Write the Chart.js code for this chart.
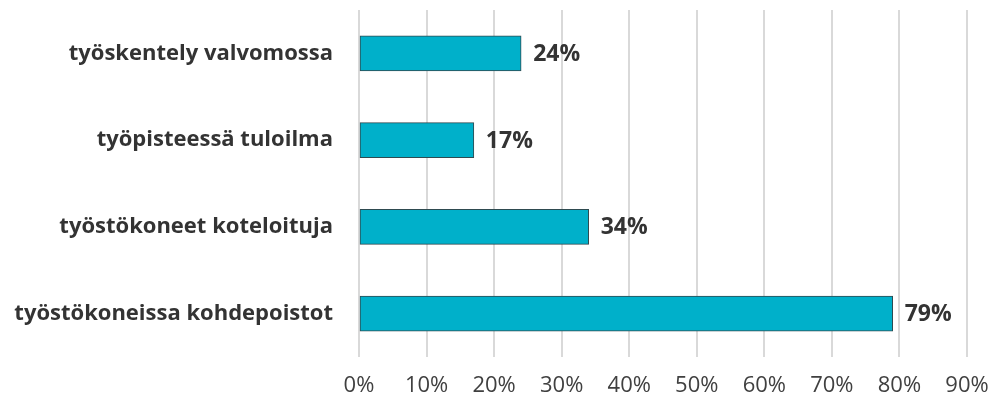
<!DOCTYPE html>
<html>
<head>
<meta charset="utf-8">
<script src="https://cdn.jsdelivr.net/npm/chart.js@4/dist/chart.umd.min.js"></script>
<style>
  html, body { margin: 0; padding: 0; background: #fff; }
  #wrap { width: 990px; height: 405px; position: relative; }
</style>
</head>
<body>
<div id="wrap"><canvas id="chart"></canvas></div>
<script>
// Chart data
const categories = [
    'työskentely valvomossa',
    'työpisteessä tuloilma',
    'työstökoneet koteloituja',
    'työstökoneissa kohdepoistot'
];
const values = [24, 17, 34, 79];
const axisMax = 90;
const axisStep = 10;

const fontFamily = '"Open Sans", "Noto Sans", sans-serif';

// Draw value labels to the right of each bar
const valueLabels = {
    id: 'valueLabels',
    afterDatasetsDraw(chart) {
        const ctx = chart.ctx;
        const meta = chart.getDatasetMeta(0);
        ctx.save();
        ctx.font = 'bold 23px ' + fontFamily;
        ctx.fillStyle = '#333333';
        ctx.textAlign = 'left';
        ctx.textBaseline = 'middle';
        meta.data.forEach((bar, i) => {
            ctx.fillText(values[i] + '%', bar.x + 12, bar.y + 1);
        });
        ctx.restore();
    }
};

new Chart(document.getElementById('chart'), {
    type: 'bar',
    data: {
        labels: categories,
        datasets: [{
            data: values,
            backgroundColor: '#00b0ca',
            borderColor: '#2e4a50',
            borderWidth: 1,
            borderSkipped: false,
            barThickness: 35
        }]
    },
    options: {
        indexAxis: 'y',
        responsive: true,
        maintainAspectRatio: false,
        animation: false,
        layout: { padding: { top: 10, right: 0, left: 0, bottom: 0 } },
        plugins: {
            legend: { display: false },
            tooltip: { enabled: false }
        },
        scales: {
            x: {
                min: 0,
                max: axisMax,
                grid: { color: '#d9d9d9', lineWidth: 2, drawTicks: false },
                border: { display: false },
                afterFit: scale => {
                    scale.height = 48;
                    scale.paddingLeft = 0;
                    scale.paddingRight = 23;
                },
                ticks: {
                    stepSize: axisStep,
                    padding: 16,
                    color: '#404040',
                    font: { family: fontFamily, size: 22 },
                    callback: v => v + '%'
                }
            },
            y: {
                grid: { display: false },
                border: { display: false },
                afterFit: scale => {
                    scale.width = 359;
                    scale.paddingTop = 0;
                    scale.paddingBottom = 0;
                },
                ticks: {
                    padding: 18,
                    color: '#333333',
                    font: { family: fontFamily, size: 22, weight: 'bold' }
                }
            }
        }
    },
    plugins: [valueLabels]
});
</script>
</body>
</html>
